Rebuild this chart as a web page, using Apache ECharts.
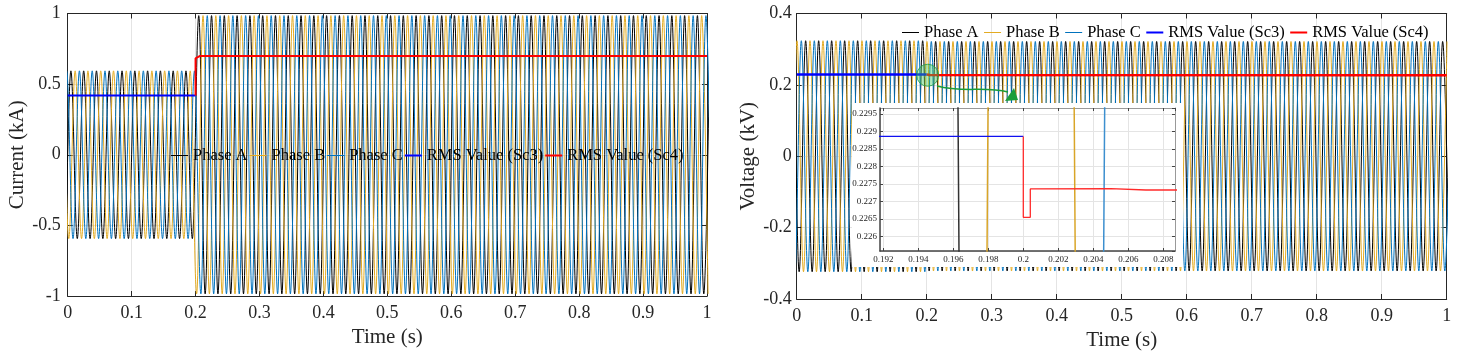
<!DOCTYPE html>
<html><head><meta charset="utf-8">
<script src="https://cdn.jsdelivr.net/npm/echarts@6/dist/echarts.min.js"></script>
<style>html,body{margin:0;padding:0;background:#fff}#c{width:1459px;height:356px}</style>
</head><body><div id="c"></div>
<script>
// ---------------- data ----------------
const SUPPLY_FREQ_HZ = 50;              // 5 cycles per 0.1 s
const STEP_TIME_S = 0.2;                // load step instant
const phaseNames = ['Phase A', 'Phase B', 'Phase C'];
const rmsNames = ['RMS Value (Sc3)', 'RMS Value (Sc4)'];
const timeRange = [0, 1];
const currentRange = [-1, 1];
const voltageRange = [-0.4, 0.4];
const insetTimeRange = [0.19181, 0.20867];
const insetVoltageRange = [0.22559, 0.22967];

// phase angle of each trace (degrees, sine reference) and peak values before / after the step
const currentPhaseDeg = [0, -120, 120];
const currentPeakKA = [0.594, 0.985];
const voltagePhaseDeg = [202, 82, 322];
const voltagePeakKV = [0.3237, 0.3216];

// RMS traces [time, value]
const currentRmsSc3 = [[0, 0.42], [0.2, 0.42]];
const currentRmsSc4 = [[0.2, 0.42], [0.2, 0.683], [0.207, 0.70], [1, 0.70]];
const voltageRmsSc3 = [[0, 0.22886], [0.2, 0.22886]];
const voltageRmsSc4 = [[0.2, 0.22886], [0.2, 0.22655], [0.2004, 0.22655], [0.2004, 0.22736],
                       [0.205, 0.22737], [0.207, 0.22733], [1, 0.2273]];
const zoomCenter = [[0.2015, 0.227]];

// peaks / troughs of each phase trace (the library's smooth line joins them)
function peakTrace(phaseDeg, peaks) {
  const half = 1 / (2 * SUPPLY_FREQ_HZ);
  const first = (90 - phaseDeg) / (360 * SUPPLY_FREQ_HZ);
  const k0 = Math.floor((-half - first) / half);
  const pts = [];
  for (let k = k0; ; k++) {
    const t = first + k * half;
    if (t > timeRange[1] + half) break;
    const amp = t < STEP_TIME_S ? peaks[0] : peaks[1];
    const sign = (((k % 2) + 2) % 2) === 0 ? 1 : -1;
    pts.push([+t.toFixed(6), sign * amp]);
  }
  return pts;
}
const currentTraces = currentPhaseDeg.map(p => peakTrace(p, currentPeakKA));
const voltageTraces = voltagePhaseDeg.map(p => peakTrace(p, voltagePeakKV));

// ---------------- styling ----------------
const FONT = "'Liberation Serif', 'Times New Roman', serif";
const AX = '#262626';
const GRIDC = '#e4e4e4';
const phaseColors = ['#000000', '#E3AB22', '#0072BD'];
const rmsColors = ['#0000FF', '#FF0000'];

function boxAxes(grid, isX, min, max, interval, opts) {
  opts = opts || {};
  const common = {
    type: 'value', gridIndex: grid, min: min, max: max,
    axisLine: { show: true, onZero: false, lineStyle: { color: opts.lineColor || AX, width: opts.lineWidth || 1 } },
    axisTick: { show: true, inside: true, length: opts.tickLen || 5, lineStyle: { color: opts.lineColor || AX } },
    z: opts.z || 0, silent: true
  };
  if (opts.forceInterval) {
    common.splitNumber = 8; common.minInterval = interval; common.maxInterval = interval;
  } else {
    common.interval = interval;
  }
  const a = Object.assign({}, common, {
    position: isX ? 'bottom' : 'left',
    axisLabel: Object.assign({ fontFamily: FONT, fontSize: opts.fontSize || 18, color: AX, margin: opts.margin || 8, interval: 0 },
      opts.hideEnds ? { showMinLabel: false, showMaxLabel: false } : {}),
    splitLine: { show: true, lineStyle: { color: GRIDC, width: 1 } },
    name: opts.name || '', nameLocation: 'middle', nameGap: opts.nameGap || 30,
    nameTextStyle: { fontFamily: FONT, fontSize: 21, color: AX }
  });
  const b = Object.assign({}, common, {
    position: isX ? 'top' : 'right',
    axisLine: { show: true, onZero: false, lineStyle: { color: opts.line2Color || opts.lineColor || AX, width: 1 } },
    axisLabel: { show: false }, splitLine: { show: false }
  });
  return [a, b];
}

const xAxes = [].concat(
  boxAxes(0, true, timeRange[0], timeRange[1], 0.1, { name: 'Time (s)', nameGap: 29 }),
  boxAxes(1, true, timeRange[0], timeRange[1], 0.1, { name: 'Time (s)', nameGap: 30 }),
  boxAxes(2, true, insetTimeRange[0], insetTimeRange[1], 0.002,
    { forceInterval: true, hideEnds: true, fontSize: 9, margin: 4, z: 11, lineColor: '#444', line2Color: '#999', lineWidth: 1.5, tickLen: 3 })
);
const yAxes = [].concat(
  boxAxes(0, false, currentRange[0], currentRange[1], 0.5, { name: 'Current (kA)', nameGap: 37, margin: 7 }),
  boxAxes(1, false, voltageRange[0], voltageRange[1], 0.2, { name: 'Voltage (kV)', nameGap: 38, margin: 5 }),
  boxAxes(2, false, insetVoltageRange[0], insetVoltageRange[1], 0.0005,
    { forceInterval: true, hideEnds: true, fontSize: 9, margin: 3, z: 11, lineColor: '#444', line2Color: '#999', lineWidth: 1.5, tickLen: 3 })
);

function lineSeries(name, axisIdx, data, color, width, smooth, z) {
  return {
    name: name, type: 'line', xAxisIndex: axisIdx, yAxisIndex: axisIdx, data: data,
    symbol: 'none', smooth: smooth ? 0.363 : false, smoothMonotone: smooth ? 'x' : undefined,
    lineStyle: { color: color, width: width }, itemStyle: { color: color },
    z: z, silent: true, animation: false
  };
}

const series = [];
// left panel: current
phaseNames.forEach((n, i) => series.push(lineSeries(n, 0, currentTraces[i], phaseColors[i], 1, true, 2)));
series.push(lineSeries(rmsNames[0], 0, currentRmsSc3, rmsColors[0], 2, false, 3));
series.push(lineSeries(rmsNames[1], 0, currentRmsSc4, rmsColors[1], 2, false, 3));
// right panel: voltage
phaseNames.forEach((n, i) => series.push(lineSeries(n, 2, voltageTraces[i], phaseColors[i], 1, true, 2)));
series.push(lineSeries(rmsNames[0], 2, voltageRmsSc3, rmsColors[0], 2.5, false, 3));
series.push(lineSeries(rmsNames[1], 2, voltageRmsSc4, rmsColors[1], 2.5, false, 3));
series.push({
  name: 'zoom', type: 'scatter', xAxisIndex: 2, yAxisIndex: 2, data: zoomCenter, symbolSize: 22,
  itemStyle: { color: 'rgba(60,200,90,0.5)', borderColor: '#1f9f42', borderWidth: 1 }, z: 4, silent: true, animation: false
});
// inset (zoom of the right panel)
const insetPhaseColors = ['#333333', '#D9A528', '#3C8FCF'];
phaseNames.forEach((n, i) => series.push(lineSeries(n + ' (zoom)', 4, voltageTraces[i], insetPhaseColors[i], 1.5, true, 12)));
series.push(lineSeries('Sc3 (zoom)', 4, voltageRmsSc3, '#1010F0', 1.3, false, 13));
series.push(lineSeries('Sc4 (zoom)', 4, voltageRmsSc4, '#FF2A2A', 1.3, false, 13));

// legend icons: plain line segments (thin for phases, thicker for RMS)
const thinIcon = 'path://M0,0 L0.01,0 M0,4.4 L17,4.4 L17,5.6 L0,5.6 Z M16.99,10 L17,10';
const thickIcon = 'path://M0,0 L0.01,0 M0,4 L17,4 L17,6 L0,6 Z M16.99,10 L17,10';
const legendData = phaseNames.map(n => ({ name: n, icon: thinIcon }))
  .concat(rmsNames.map(n => ({ name: n, icon: thickIcon })));
const legendBase = {
  data: legendData, orient: 'horizontal', itemWidth: 17, itemHeight: 10, itemGap: 2,
  textStyle: { fontFamily: FONT, fontSize: 16.5, color: '#000' }, selectedMode: false, z: 20
};

const option = {
  animation: false,
  backgroundColor: '#fff',
  grid: [
    { left: 67.7, top: 13.5, width: 639.3, height: 282.5 },
    { left: 796.7, top: 13.5, width: 650, height: 285.5 },
    { left: 880, top: 108, width: 295, height: 143 }
  ],
  xAxis: xAxes,
  yAxis: yAxes,
  legend: [
    Object.assign({}, legendBase, { left: 166, top: 142 }),
    Object.assign({}, legendBase, { left: 897, top: 19, itemGap: 5.5 })
  ],
  graphic: { elements: [
    { type: 'rect', shape: { x: 852, y: 103, width: 331, height: 164 }, style: { fill: '#ffffff' }, z: 10, silent: true },
    { type: 'bezierCurve', shape: { x1: 937, y1: 86, cpx1: 962, cpy1: 93, cpx2: 985, cpy2: 86, x2: 1008, y2: 92 },
      style: { stroke: '#1a9e3a', lineWidth: 1.5, fill: null }, z: 14, silent: true },
    { type: 'polygon', shape: { points: [[1005, 101], [1014, 88], [1018, 100]] },
      style: { fill: '#1a9e3a' }, z: 14, silent: true }
  ] },
  series: series
};

const chart = echarts.init(document.getElementById('c'), null, { renderer: 'canvas' });
chart.setOption(option);
</script>
</body></html>
